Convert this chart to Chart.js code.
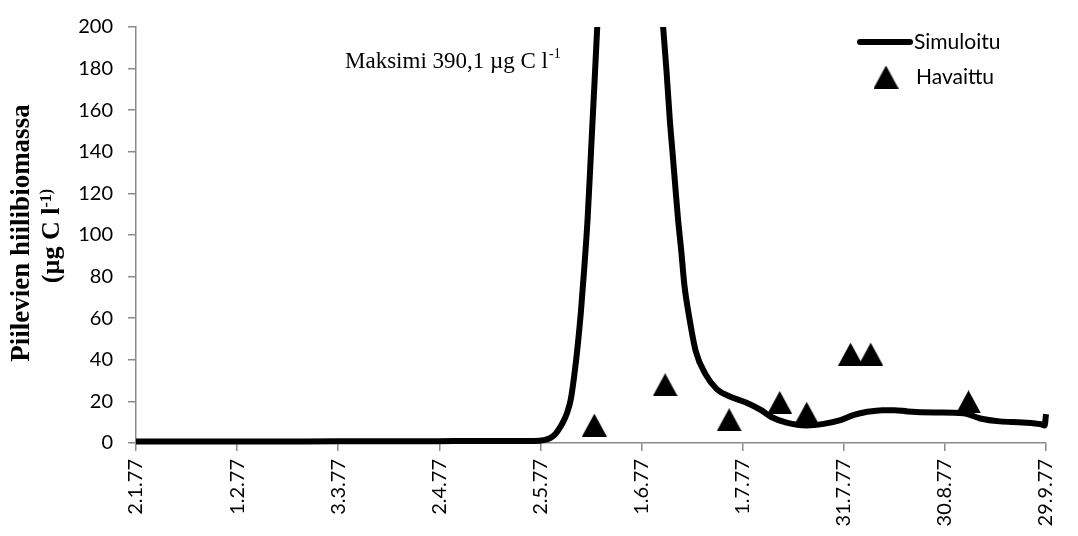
<!DOCTYPE html>
<html>
<head>
<meta charset="utf-8">
<script src="https://cdn.jsdelivr.net/npm/chart.js@4.4.0/dist/chart.umd.min.js"></script>
<style>
  html, body { margin: 0; padding: 0; background: #fff; }
  #wrap { width: 1078px; height: 536px; }
</style>
</head>
<body>
<div id="wrap"><canvas id="chart" width="1078" height="536"></canvas></div>
<script>
// x = days since 2.1.77
const tickLabels = ['2.1.77', '1.2.77', '3.3.77', '2.4.77', '2.5.77', '1.6.77', '1.7.77', '31.7.77', '30.8.77', '29.9.77'];

const simDays = [0, 30, 60, 90, 118, 121, 123, 124.5, 126, 127, 128, 129, 130, 131, 132, 133, 134, 135, 136, 137,
  139, 141, 143, 145, 147, 149, 151, 153, 155, 156.4, 157.4, 158.4, 159.2, 160, 160.8, 161.8, 162.7, 164.2, 166.1,
  169, 172.4, 176, 181, 185.5, 188.5, 193, 199, 204, 209, 213, 217, 221.5, 225, 229, 237, 245.5, 250.5, 256.3,
  263, 268.5, 269.6, 270];
const simValues = [0.7, 0.7, 0.8, 0.9, 1.0, 1.4, 2.5, 4.5, 8, 11, 15, 21, 32, 46, 63, 84, 108, 140, 172, 205,
  270, 330, 375, 390.1, 375, 340, 300, 260, 225, 200, 179, 155, 139.5, 123.6, 108, 92, 76, 60, 44,
  33, 25.8, 22.5, 19.5, 15.8, 12.5, 9.8, 8.4, 9.2, 11, 13.5, 15, 15.8, 15.8, 15.2, 14.7, 14.3, 11.8, 10.4,
  9.9, 9.0, 8.4, 13.9];

const obsDays = [136, 157, 176, 191, 199, 212, 218, 247];
const obsValues = [8.6, 28.0, 11.2, 19.5, 14.3, 42.7, 42.7, 19.8];

const seriesNames = ['Simuloitu', 'Havaittu'];
const yTitle = 'Piilevien hiilibiomassa';
const maxNote = 'Maksimi 390,1 µg C l';

function makeTriangle(w, h) {
  const c = document.createElement('canvas');
  c.width = w;
  c.height = h;
  const g = c.getContext('2d');
  g.fillStyle = '#000';
  g.beginPath();
  g.moveTo(w / 2, 0);
  g.lineTo(w, h);
  g.lineTo(0, h);
  g.closePath();
  g.fill();
  return c;
}
const triangle = makeTriangle(25, 23);

const axisGrey = '#8a8a8a';
const tickFont = { family: 'Lato', size: 20 };

// texts that sit outside the normal axis/legend slots
const overlayPlugin = {
  id: 'overlay',
  afterDraw(chart) {
    const ctx = chart.ctx;
    ctx.save();
    ctx.fillStyle = '#000';
    ctx.textBaseline = 'alphabetic';

    // note about the clipped maximum
    ctx.font = '23px "Liberation Serif"';
    ctx.fillText(maxNote, 345, 68);
    let w = ctx.measureText(maxNote).width;
    ctx.font = '14px "Liberation Serif"';
    ctx.fillText('-1', 345 + w + 1, 58);

    // y axis title, two lines
    ctx.save();
    ctx.translate(22, 233);
    ctx.rotate(-Math.PI / 2);
    ctx.font = 'bold 27px "Liberation Serif"';
    ctx.textAlign = 'center';
    ctx.textBaseline = 'middle';
    ctx.fillText(yTitle, 0, 0);
    ctx.restore();

    ctx.save();
    ctx.translate(52, 236);
    ctx.rotate(-Math.PI / 2);
    ctx.textBaseline = 'middle';
    ctx.font = 'bold 26px "Liberation Serif"';
    const a = '(µg C l';
    const wa = ctx.measureText(a).width;
    ctx.font = 'bold 16px "Liberation Serif"';
    const b = '-1)';
    const wb = ctx.measureText(b).width;
    const start = -(wa + wb) / 2;
    ctx.font = 'bold 26px "Liberation Serif"';
    ctx.fillText(a, start, 0);
    ctx.font = 'bold 16px "Liberation Serif"';
    ctx.fillText(b, start + wa, -5);
    ctx.restore();

    // legend
    ctx.strokeStyle = '#000';
    ctx.lineWidth = 6;
    ctx.lineCap = 'round';
    ctx.beginPath();
    ctx.moveTo(860, 42);
    ctx.lineTo(910, 42);
    ctx.stroke();
    ctx.drawImage(triangle, 886 - 12.5, 77 - 11.5);
    ctx.font = '21px Lato';
    ctx.textBaseline = 'middle';
    ctx.fillText(chart.data.datasets[0].label, 914, 42);
    ctx.fillText(chart.data.datasets[1].label, 916, 77);
    ctx.restore();
  }
};

new Chart(document.getElementById('chart'), {
  type: 'scatter',
  data: {
    datasets: [
      {
        label: seriesNames[0],
        data: simDays.map((d, i) => ({ x: d, y: simValues[i] })),
        showLine: true,
        borderColor: '#000',
        borderWidth: 6,
        pointRadius: 0,
        cubicInterpolationMode: 'monotone',
        clip: { left: 3, right: 3, top: 0, bottom: 3 },
        order: 2
      },
      {
        label: seriesNames[1],
        data: obsDays.map((d, i) => ({ x: d, y: obsValues[i] })),
        showLine: false,
        pointStyle: triangle,
        pointRadius: 12,
        clip: false,
        order: 1
      }
    ]
  },
  options: {
    responsive: false,
    animation: false,
    devicePixelRatio: 1,
    layout: { padding: { left: 0, right: 14, top: 23, bottom: 0 } },
    plugins: {
      legend: { display: false },
      tooltip: { enabled: false }
    },
    scales: {
      x: {
        type: 'linear',
        min: 0,
        max: 270,
        afterFit(scale) { scale.height = 93; },
        afterBuildTicks(scale) {
          scale.ticks = tickLabels.map((t, i) => ({ value: i * 30 }));
        },
        ticks: {
          callback: (v, i) => tickLabels[i],
          autoSkip: false,
          minRotation: 90,
          maxRotation: 90,
          padding: 8,
          color: '#000',
          font: tickFont
        },
        grid: { drawOnChartArea: false, drawTicks: true, tickLength: 8, color: axisGrey, lineWidth: 1.5 },
        border: { color: axisGrey, width: 1.5 }
      },
      y: {
        min: 0,
        max: 200,
        afterFit(scale) { scale.width = 136; },
        ticks: {
          stepSize: 20,
          padding: 15,
          color: '#000',
          font: tickFont
        },
        grid: { drawOnChartArea: false, drawTicks: true, tickLength: 8, color: axisGrey, lineWidth: 1.5 },
        border: { color: axisGrey, width: 1.5 }
      }
    }
  },
  plugins: [overlayPlugin]
});
</script>
</body>
</html>
